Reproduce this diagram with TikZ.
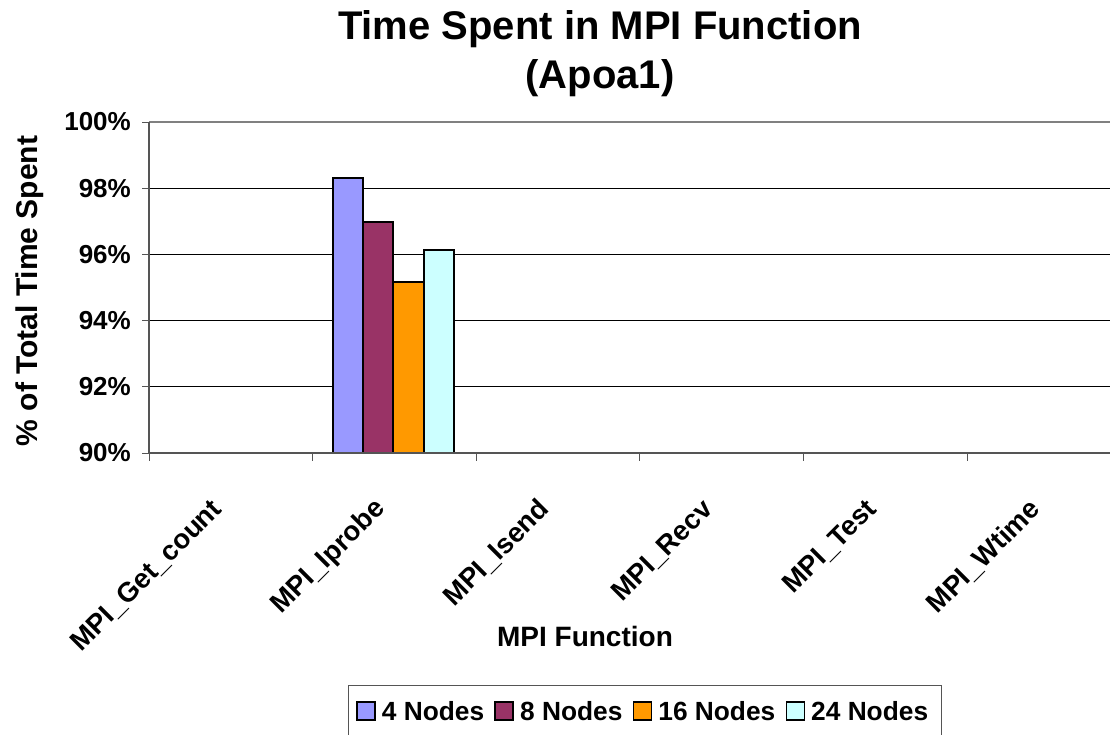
\documentclass[tikz,border=0pt]{standalone}
\usepackage{fontspec}
\setmainfont{Liberation Sans}
\definecolor{cfour}{HTML}{9999FF}
\definecolor{ceight}{HTML}{993366}
\definecolor{csixteen}{HTML}{FF9900}
\definecolor{ctwentyfour}{HTML}{CCFFFF}
\definecolor{axisgray}{HTML}{555555}
\begin{document}
\begin{tikzpicture}[x=1pt,y=-1pt,
  lbl/.style={font=\bfseries\fontsize{26}{30}\selectfont, inner sep=0pt},
  catlbl/.style={font=\bfseries\fontsize{27.5}{30}\selectfont, inner sep=0pt},
  axlbl/.style={font=\bfseries\fontsize{28}{32}\selectfont, inner sep=0pt},
  ttl/.style={font=\bfseries\fontsize{40}{49}\selectfont, inner sep=0pt, align=center},
  gridline/.style={black, line width=1pt},
  axisline/.style={axisgray, line width=1.6pt},
  bar/.style={draw=black, line width=2pt},
  legsq/.style={draw=black, line width=1.5pt, minimum size=18pt, inner sep=0pt},
  legtxt/.style={font=\bfseries\fontsize{26.3}{30}\selectfont, inner sep=0pt}]
\useasboundingbox (0,0) rectangle (1110,734);
\fill[white] (0,0) rectangle (1110,734);
% title
\node[ttl] (title) at (600,54) {Time Spent in MPI Function\\(Apoa1)};
% gridlines
\draw[gray, line width=1.6pt] (149,122) -- (1110,122);
\foreach \yy in {188.2,254.4,320.6,386.8} \draw[gridline] (149,\yy) -- (1110,\yy);
% y ticks and labels
\foreach \yy/\t in {122/100,188.2/98,254.4/96,320.6/94,386.8/92,453/90} {
  \draw[axisline, line width=1pt] (142,\yy) -- (149,\yy);
  \node[lbl, anchor=east] (yt\t) at (131,\yy) {\t\%};
}
% bars
\draw[bar, fill=cfour] (333,453) rectangle (363.2,177.6);
\draw[bar, fill=ceight] (363.2,453) rectangle (393.4,222.3);
\draw[bar, fill=csixteen] (393.4,453) rectangle (423.6,281.9);
\draw[bar, fill=ctwentyfour] (423.6,453) rectangle (453.8,249.8);
% axes
\draw[axisline] (149,122) -- (149,453);
\draw[axisline] (149,453) -- (1110,453);
\foreach \xx in {149,312.6,476.2,639.8,803.4,967} \draw[axisline, line width=1pt] (\xx,453) -- (\xx,461);
% category labels
\foreach \c/\t in {230.8/MPI\_Get\_count,394.4/MPI\_Iprobe,558/MPI\_Isend,721.6/MPI\_Recv,885.2/MPI\_Test,1048.8/MPI\_Wtime} {
  \node[catlbl, rotate=45, anchor=east] (cat\c) at (\c-13,505) {\t};
}
\node[axlbl] (xtitle) at (585,636) {MPI Function};
\node[axlbl, font=\bfseries\fontsize{30}{34}\selectfont, rotate=90] (ytitle) at (30,291) {\% of Total Time Spent};
% legend
\draw[axisgray, line width=1pt] (348,685) rectangle (941,760);
\node[legsq, fill=cfour] (s1) at (366,711) {};
\node[legtxt, anchor=west] (l1) at ([xshift=6pt]s1.east) {4 Nodes};
\node[legsq, fill=ceight, anchor=west] (s2) at ([xshift=10pt]l1.east) {};
\node[legtxt, anchor=west] (l2) at ([xshift=6pt]s2.east) {8 Nodes};
\node[legsq, fill=csixteen, anchor=west] (s3) at ([xshift=10pt]l2.east) {};
\node[legtxt, anchor=west] (l3) at ([xshift=6pt]s3.east) {16 Nodes};
\node[legsq, fill=ctwentyfour, anchor=west] (s4) at ([xshift=10pt]l3.east) {};
\node[legtxt, anchor=west] (l4) at ([xshift=6pt]s4.east) {24 Nodes};
\end{tikzpicture}
\end{document}
